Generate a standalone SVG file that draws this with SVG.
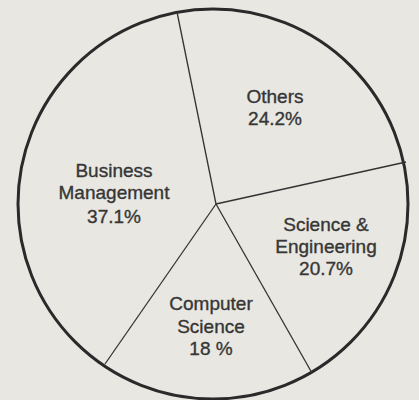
<svg xmlns="http://www.w3.org/2000/svg" width="419" height="400" viewBox="0 0 419 400">
<style>
.lbl{font-family:"Liberation Sans",Arial,sans-serif;font-size:19px;fill:#363636;stroke:#363636;stroke-width:0.35;text-anchor:middle}
.rim{fill:none;stroke:#2a2a2a;stroke-width:3}
.spoke{stroke:#333;stroke-width:1.3;fill:none}
</style>
<rect width="419" height="400" fill="#e8e7e2"/>
<g id="pie">
<circle class="rim" cx="213" cy="204" r="195"/>
</g>
<g id="connectors">
<line class="spoke" x1="216" y1="204" x2="177" y2="12"/>
<line class="spoke" x1="216" y1="204" x2="406" y2="162"/>
<line class="spoke" x1="216" y1="204" x2="312" y2="373"/>
<line class="spoke" x1="216" y1="204" x2="105" y2="364"/>
</g>
<g id="others">
<text class="lbl" x="275" y="103">Others</text>
<text class="lbl" x="275" y="125">24.2%</text>
</g>
<g id="business">
<text class="lbl" x="114" y="177">Business</text>
<text class="lbl" x="114" y="199">Management</text>
<text class="lbl" x="114" y="223">37.1%</text>
</g>
<g id="science-engineering">
<text class="lbl" x="326" y="231">Science &amp;</text>
<text class="lbl" x="326" y="253">Engineering</text>
<text class="lbl" x="326" y="275">20.7%</text>
</g>
<g id="computer-science">
<text class="lbl" x="211" y="310">Computer</text>
<text class="lbl" x="211" y="333">Science</text>
<text class="lbl" x="211" y="355">18 %</text>
</g>
</svg>
